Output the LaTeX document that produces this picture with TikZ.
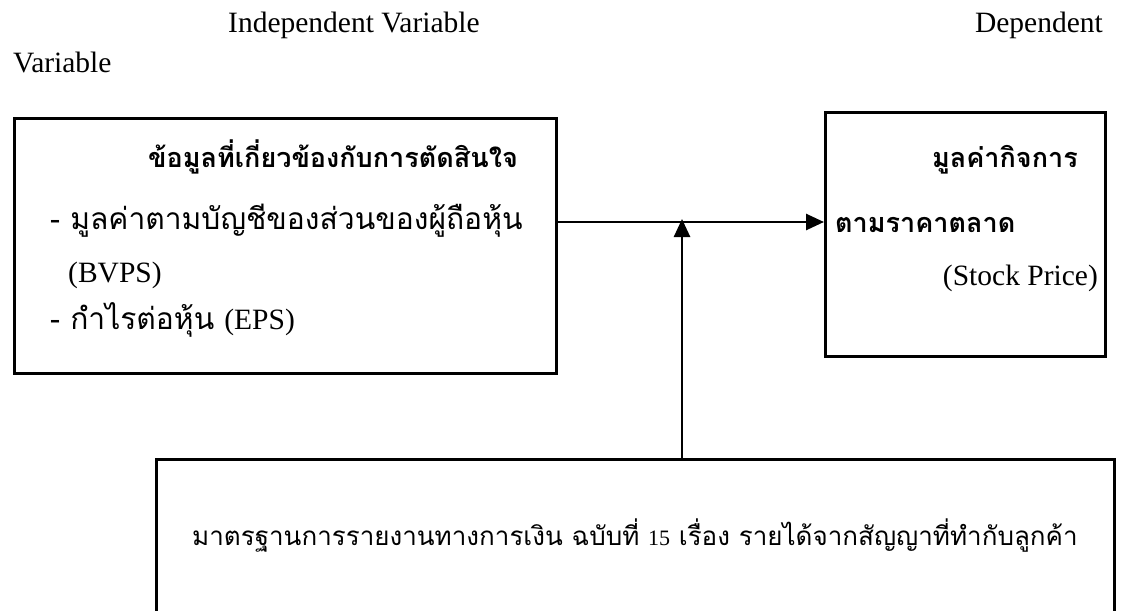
\documentclass[tikz,border=0pt]{standalone}
\usepackage{fontspec}
\setmainfont{Liberation Serif}
\newfontfamily\thai[Script=Thai]{Loma}
\usetikzlibrary{arrows.meta}
\begin{document}
\begin{tikzpicture}[x=1pt,y=-1pt,
  box/.style={draw, line width=2.6pt, inner sep=0pt, anchor=north west},
  lat/.style={font=\fontsize{29.5}{29.5}\selectfont, inner sep=0pt, anchor=base west},
  th/.style={font=\fontsize{30}{30}\selectfont\thai, inner sep=0pt, anchor=base west},
  thb/.style={font=\fontsize{27}{27}\selectfont\thai\bfseries, inner sep=0pt, anchor=base west},
  thbot/.style={font=\fontsize{26}{26}\selectfont\thai, inner sep=0pt, anchor=base west},
  conn/.style={line width=2.6pt, -{Triangle[length=18pt,width=16pt]}}]
\clip (0,0) rectangle (1129,610);
\useasboundingbox (0,0) rectangle (1129,610);
\fill[white] (0,0) rectangle (1129,610);
% boxes
\node[box, minimum width=542pt, minimum height=255pt] (indep) at (13,117) {};
\node[box, minimum width=280pt, minimum height=244pt] (dep) at (824,111) {};
\node[box, minimum width=958pt, minimum height=200pt] (std) at (155,458) {};
% headings
\node[lat] (iv) at (228,33) {Independent Variable};
\node[lat, anchor=base east] (dv) at (1103,33) {Dependent};
\node[lat] (v2) at (13,72) {Variable};
% left box text
\node[thb] (t1) at (148,167) {ข้อมูลที่เกี่ยวข้องกับการตัดสินใจ};
\node[th] (t2) at (50,229) {- มูลค่าตามบัญชีของส่วนของผู้ถือหุ้น};
\node[lat] (t3) at (68,282) {(BVPS)};
\node[th] (t4) at (50,329) {- กำไรต่อหุ้น {\rmfamily\fontsize{29.5}{29.5}\selectfont (EPS)}};
% right box text
\node[thb, anchor=base east] (r1) at (1078,167) {มูลค่ากิจการ};
\node[thb] (r2) at (835,232) {ตามราคาตลาด};
\node[lat, anchor=base east] (r3) at (1098,285) {(Stock Price)};
% bottom box text
\node[thbot] (b1) at (192,545) {มาตรฐานการรายงานทางการเงิน ฉบับที่ {\rmfamily\fontsize{22}{22}\selectfont 15} เรื่อง รายได้จากสัญญาที่ทำกับลูกค้า};
% connectors
\coordinate (j) at (682,222);
\draw[conn] (indep.east |- j) -- (dep.west |- j);
\draw[conn, shorten >=-3pt] (std.north -| j) -- (j);
\end{tikzpicture}
\end{document}
